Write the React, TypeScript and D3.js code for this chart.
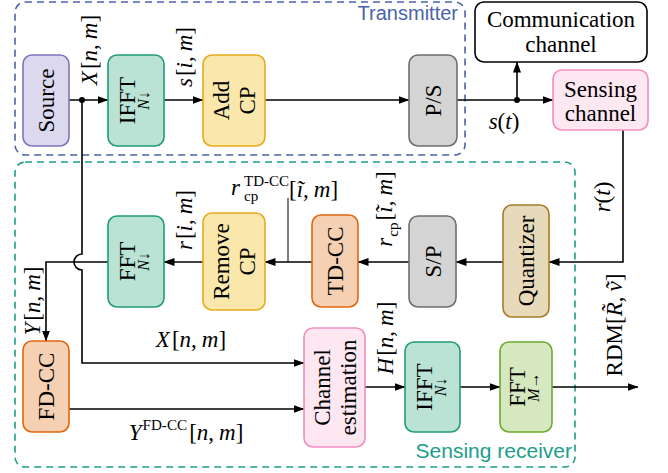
import React from "react";
import * as d3 from "d3";

const W = 668;
const H = 473;
const SERIF = "Liberation Serif";
const SANS = "Liberation Sans";
const FS = 23;

// ---- text content ----
const containerLabels = ["Transmitter", "Sensing receiver"];
const txBlocks = [["Source"], ["IFFT"], ["Add", "CP"], ["P/S"]];
const channelBlocks = [["Communication", "channel"], ["Sensing", "channel"]];
const rxBlocks = [["Quantizer"], ["S/P"], ["TD-CC"], ["Remove", "CP"], ["FFT"]];
const procBlocks = [["FD-CC"], ["Channel", "estimation"], ["IFFT"], ["FFT"]];
const fftSubs = ["N↓", "N↓", "N↓", "M→"];

type Seg = { t: string; i?: boolean; s?: "sub" | "sup"; dx?: number };

const lblX: Seg[] = [{ t: "X", i: true }, { t: "[", dx: 2 }, { t: "n", i: true }, { t: "," }, { t: "m", i: true, dx: 5 }, { t: "]" }];
const lblS: Seg[] = [{ t: "s", i: true }, { t: "[", dx: 2 }, { t: "i", i: true }, { t: "," }, { t: "m", i: true, dx: 5 }, { t: "]" }];
const lblSt: Seg[] = [{ t: "s", i: true }, { t: "(" }, { t: "t", i: true }, { t: ")" }];
const lblRt: Seg[] = [{ t: "r", i: true }, { t: "(" }, { t: "t", i: true }, { t: ")" }];
const lblRcp: Seg[] = [{ t: "r", i: true }, { t: "cp", s: "sub" }, { t: "[", dx: 2 }, { t: "ĩ", i: true }, { t: "," }, { t: "m", i: true, dx: 5 }, { t: "]" }];
const lblR: Seg[] = [{ t: "r", i: true }, { t: "[", dx: 2 }, { t: "i", i: true }, { t: "," }, { t: "m", i: true, dx: 5 }, { t: "]" }];
const lblY: Seg[] = [{ t: "Y", i: true }, { t: "[", dx: 2 }, { t: "n", i: true }, { t: "," }, { t: "m", i: true, dx: 5 }, { t: "]" }];
const lblYfd: Seg[] = [{ t: "Y", i: true }, { t: "FD-CC", s: "sup" }, { t: "[", dx: 2 }, { t: "n", i: true }, { t: "," }, { t: "m", i: true, dx: 5 }, { t: "]" }];
const lblH: Seg[] = [{ t: "H", i: true }, { t: "[", dx: 2 }, { t: "n", i: true }, { t: "," }, { t: "m", i: true, dx: 5 }, { t: "]" }];
const lblRDM: Seg[] = [{ t: "RDM[" }, { t: "R\u0303", i: true }, { t: "," }, { t: "v\u0303", i: true, dx: 5 }, { t: "]" }];
const lblTdcc = { base: "r", sup: "TD-CC", sub: "cp", rest: [{ t: "[" }, { t: "ĩ", i: true }, { t: "," }, { t: "m", i: true, dx: 5 }, { t: "]" }] as Seg[] };

function spans(segs: Seg[], fs: number) {
  let cur = 0;
  return segs.map((s, k) => {
    const target = s.s === "sub" ? fs * 0.28 : s.s === "sup" ? -fs * 0.42 : 0;
    const dy = target - cur;
    cur = target;
    return (
      <tspan
        key={k}
        dy={dy || undefined}
        dx={s.dx || (s.s ? 1 : undefined)}
        style={{ fontStyle: s.i ? "italic" : "normal", fontSize: s.s ? fs * 0.66 : fs }}
      >
        {s.t}
      </tspan>
    );
  });
}

function MathLabel({ segs, x, y, rot, anchor = "middle" }: { segs: Seg[]; x: number; y: number; rot?: boolean; anchor?: string }) {
  return (
    <g transform={rot ? `translate(${x},${y}) rotate(-90)` : `translate(${x},${y})`}>
      <text style={{ fontFamily: SERIF, fontSize: FS }} textAnchor={anchor} fill="#000">
        {spans(segs, FS)}
      </text>
    </g>
  );
}

type Box = {
  x0: number; y0: number; x1: number; y1: number;
  fill: string; stroke: string; lines: string[]; sub?: string; rot: boolean;
  base?: number[];
};

export default function App() {
  const line = d3.line<[number, number]>();
  const rowTop = 100;
  const rowRx = 262;
  const rowEst = 387;

  const boxes: Box[] = [
    { x0: 23, y0: 55, x1: 69, y1: 146, fill: "#dcd8ee", stroke: "#7f74b9", lines: txBlocks[0], rot: true },
    { x0: 108, y0: 55, x1: 164, y1: 146, fill: "#bae3d6", stroke: "#1f9c78", lines: txBlocks[1], sub: fftSubs[0], rot: true },
    { x0: 203, y0: 55, x1: 265, y1: 146, fill: "#fae7ab", stroke: "#e8aa1c", lines: txBlocks[2], rot: true },
    { x0: 409, y0: 55, x1: 457, y1: 146, fill: "#d4d4d4", stroke: "#6e6e6e", lines: txBlocks[3], rot: true },
    { x0: 475, y0: 2, x1: 647, y1: 62, fill: "#ffffff", stroke: "#000000", lines: channelBlocks[0], rot: false, base: [27, 52] },
    { x0: 553, y0: 70, x1: 648, y1: 130, fill: "#fde7f1", stroke: "#f28dc3", lines: channelBlocks[1], rot: false, base: [97, 121] },
    { x0: 503, y0: 205, x1: 549, y1: 317, fill: "#e7dabb", stroke: "#a67c2a", lines: rxBlocks[0], rot: true },
    { x0: 409, y0: 216, x1: 456, y1: 307, fill: "#d4d4d4", stroke: "#6e6e6e", lines: rxBlocks[1], rot: true },
    { x0: 312, y0: 215, x1: 358, y1: 307, fill: "#f6d0b2", stroke: "#e0650d", lines: rxBlocks[2], rot: true },
    { x0: 203, y0: 213, x1: 265, y1: 310, fill: "#fae7ab", stroke: "#e8aa1c", lines: rxBlocks[3], rot: true },
    { x0: 108, y0: 216, x1: 164, y1: 307, fill: "#bae3d6", stroke: "#1f9c78", lines: rxBlocks[4], sub: fftSubs[1], rot: true },
    { x0: 23, y0: 341, x1: 69, y1: 432, fill: "#f6d0b2", stroke: "#e0650d", lines: procBlocks[0], rot: true },
    { x0: 304, y0: 328, x1: 365, y1: 447, fill: "#fde7f1", stroke: "#f28dc3", lines: procBlocks[1], rot: true },
    { x0: 405, y0: 342, x1: 460, y1: 432, fill: "#bae3d6", stroke: "#1f9c78", lines: procBlocks[2], sub: fftSubs[2], rot: true },
    { x0: 500, y0: 342, x1: 552, y1: 432, fill: "#d6e8c0", stroke: "#6cab2c", lines: procBlocks[3], sub: fftSubs[3], rot: true },
  ];

  const arrows: [number, number][][] = [
    [[69, rowTop], [108, rowTop]],
    [[164, rowTop], [203, rowTop]],
    [[265, rowTop], [409, rowTop]],
    [[457, rowTop], [553, rowTop]],
    [[517, rowTop], [517, 62]],
    [[623, 130], [623, rowRx], [549, rowRx]],
    [[503, rowRx], [456, rowRx]],
    [[409, rowRx], [358, rowRx]],
    [[312, rowRx], [265, rowRx]],
    [[203, rowRx], [164, rowRx]],
    [[108, rowRx], [46, rowRx], [46, 341]],
    [[69, 409], [304, 409]],
    [[365, rowEst], [405, rowEst]],
    [[460, rowEst], [500, rowEst]],
    [[552, rowEst], [638, rowEst]],
  ];
  const plain: [number, number][][] = [[[288, 198], [288, rowRx]]];

  const hop = d3.path();
  hop.moveTo(82, rowTop);
  hop.lineTo(82, rowRx - 8);
  hop.arc(82, rowRx, 8, -Math.PI / 2, Math.PI / 2, true);
  hop.lineTo(82, 363);
  hop.lineTo(304, 363);

  return (
    <svg width={W} height={H} style={{ position: "absolute", left: 0, top: 0, background: "#fff", fontFamily: SERIF }}>
      <defs>
        <marker id="ah" viewBox="0 0 11 8" refX="10.5" refY="4" markerWidth="11" markerHeight="8" markerUnits="userSpaceOnUse" orient="auto">
          <path d="M0,0 L11,4 L0,8 Z" fill="#000" />
        </marker>
      </defs>

      {/* containers */}
      <rect x={15} y={2} width={450} height={153} rx={10} fill="none" stroke="#4a64a9" strokeWidth={1.6} strokeDasharray="7 5" />
      <rect x={15} y={162} width={560} height={305} rx={10} fill="none" stroke="#1b9e8a" strokeWidth={1.6} strokeDasharray="7 5" />
      <text x={458} y={20} textAnchor="end" style={{ fontFamily: SANS, fontSize: 20 }} fill="#4a64a9">{containerLabels[0]}</text>
      <text x={572} y={458} textAnchor="end" style={{ fontFamily: SANS, fontSize: 21 }} fill="#1b9e8a">{containerLabels[1]}</text>

      {/* connections */}
      <path d={hop.toString()} fill="none" stroke="#000" strokeWidth={1.6} markerEnd="url(#ah)" />
      {arrows.map((p, k) => (
        <path key={k} d={line(p) || ""} fill="none" stroke="#000" strokeWidth={1.6} markerEnd="url(#ah)" />
      ))}
      {plain.map((p, k) => (
        <path key={k} d={line(p) || ""} fill="none" stroke="#000" strokeWidth={1} />
      ))}
      <circle cx={82} cy={rowTop} r={3} fill="#000" />
      <circle cx={517} cy={rowTop} r={3} fill="#000" />

      {/* blocks */}
      {boxes.map((b, k) => {
        const cx = (b.x0 + b.x1) / 2;
        const cy = (b.y0 + b.y1) / 2;
        let content: React.ReactNode;
        if (b.rot) {
          const n = b.lines.length;
          const items = b.lines.map((l, i) => {
            const bx = b.sub ? cx - 1 : cx + (i - (n - 1) / 2) * 26 + 8;
            return (
              <text key={i} transform={`translate(${bx},${cy}) rotate(-90)`} textAnchor="middle" style={{ fontFamily: SERIF, fontSize: FS }}>
                {l}
              </text>
            );
          });
          if (b.sub) {
            items.push(
              <text key="s" transform={`translate(${cx + 13},${cy}) rotate(-90)`} textAnchor="middle" style={{ fontFamily: SERIF, fontSize: 16 }}>
                <tspan style={{ fontStyle: "italic" }}>{b.sub[0]}</tspan>
                <tspan>{b.sub.slice(1)}</tspan>
              </text>
            );
          }
          content = items;
        } else {
          content = b.lines.map((l, i) => (
            <text key={i} x={cx} y={b.base![i]} textAnchor="middle" style={{ fontFamily: SERIF, fontSize: FS }}>
              {l}
            </text>
          ));
        }
        return (
          <g key={k}>
            <rect x={b.x0} y={b.y0} width={b.x1 - b.x0} height={b.y1 - b.y0} rx={9} fill={b.fill} stroke={b.stroke} strokeWidth={1.6} />
            {content}
          </g>
        );
      })}

      {/* signal labels */}
      <MathLabel segs={lblX} x={97} y={50} rot />
      <MathLabel segs={lblS} x={192} y={57} rot />
      <MathLabel segs={lblSt} x={504} y={129} />
      <MathLabel segs={lblRt} x={610} y={197} rot />
      <MathLabel segs={lblRcp} x={392} y={209} rot />
      <MathLabel segs={lblR} x={192} y={220} rot />
      <MathLabel segs={lblY} x={40} y={301} rot />
      <MathLabel segs={lblX} x={191} y={347} />
      <MathLabel segs={lblYfd} x={186} y={440} />
      <MathLabel segs={lblH} x={393} y={338} rot />
      <MathLabel segs={lblRDM} x={622} y={325} rot />

      <g>
        <text x={231} y={195} style={{ fontFamily: SERIF, fontSize: FS, fontStyle: "italic" }}>{lblTdcc.base}</text>
        <text x={244} y={186} style={{ fontFamily: SERIF, fontSize: 15 }}>{lblTdcc.sup}</text>
        <text x={244} y={201} style={{ fontFamily: SERIF, fontSize: 15 }}>{lblTdcc.sub}</text>
        <text x={289} y={197} style={{ fontFamily: SERIF, fontSize: FS }}>{spans(lblTdcc.rest, FS)}</text>
      </g>
    </svg>
  );
}
